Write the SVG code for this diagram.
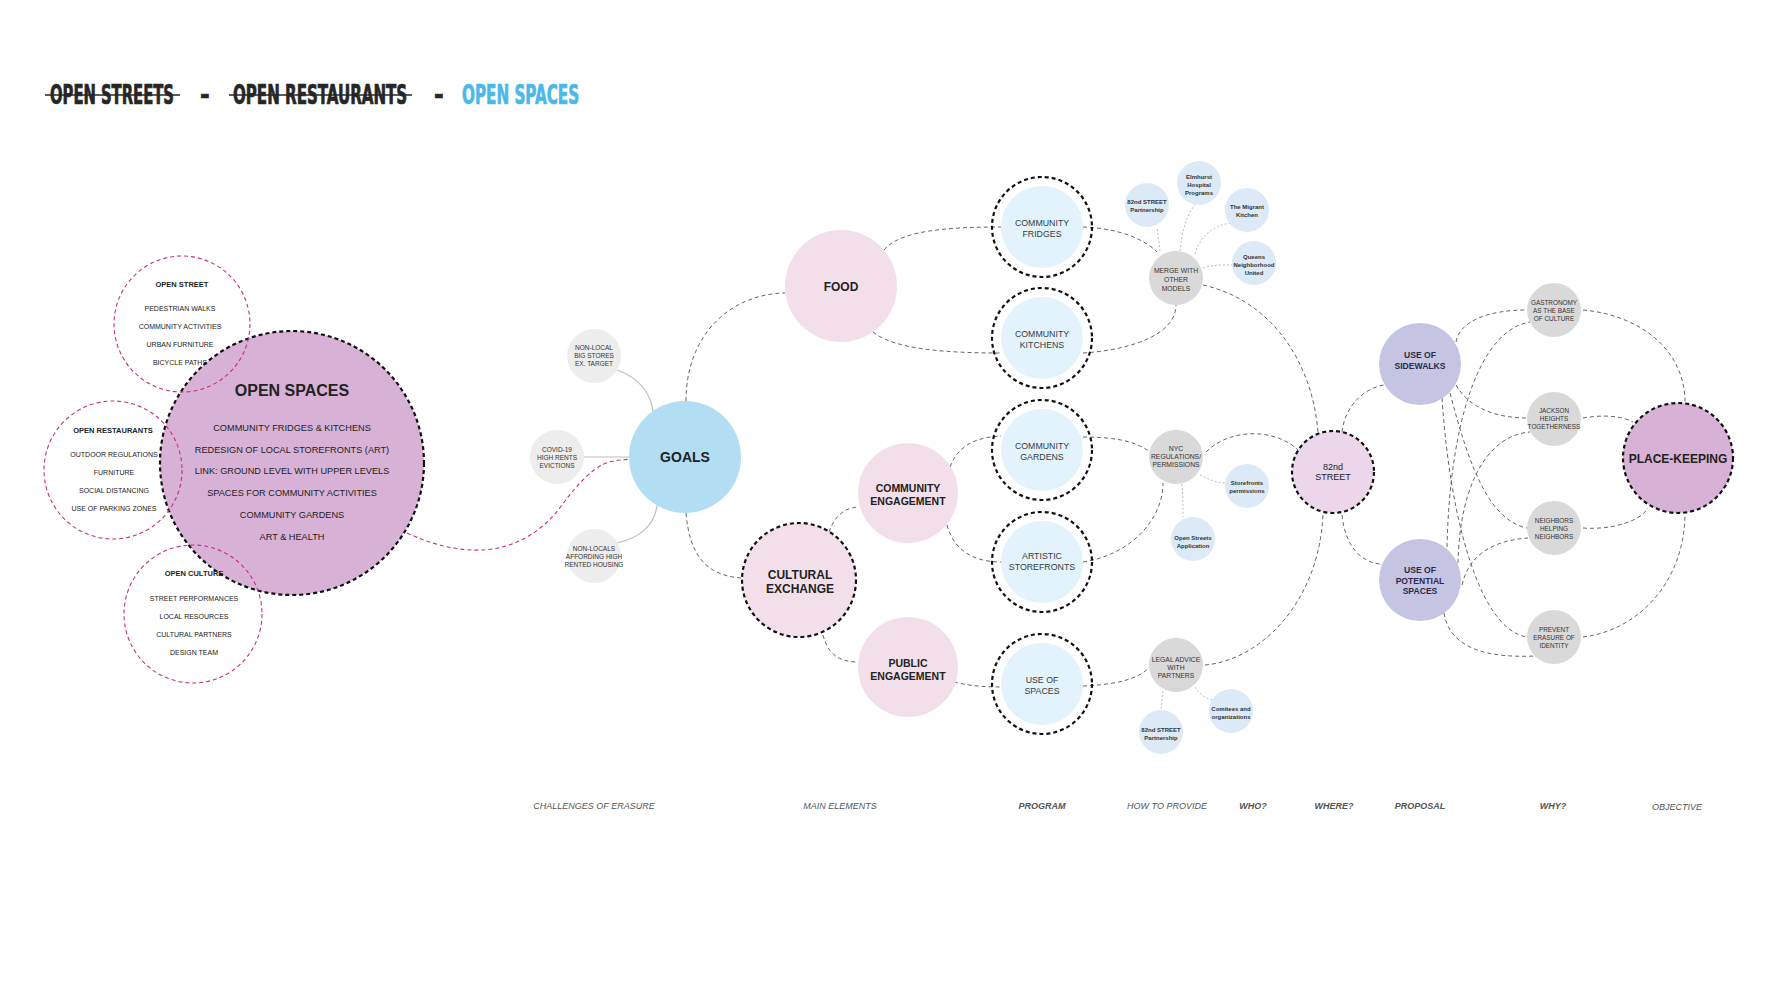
<svg xmlns="http://www.w3.org/2000/svg" width="1778" height="1000" viewBox="0 0 1778 1000">
<style>
text{font-family:"Liberation Sans",Arial,sans-serif;fill:#222;text-anchor:middle}
.title{font-family:"Liberation Sans Narrow","DejaVu Sans Condensed","Liberation Sans",sans-serif;font-weight:bold;font-size:26px;text-anchor:start;fill:#262626;stroke:#262626;stroke-width:0.7}
.blue{fill:#4ab8e8;stroke:#4ab8e8}
.con{fill:none;stroke:#666;stroke-width:1;stroke-dasharray:4 3}
.dot{fill:none;stroke:#bdbdbd;stroke-width:1;stroke-dasharray:2 2}
.solid{fill:none;stroke:#bdbdbd;stroke-width:1.2}
.mag{fill:none;stroke:#c2307c;stroke-width:1.1;stroke-dasharray:4 3}
.ring{fill:none;stroke:#111;stroke-width:2.2;stroke-dasharray:4 3}
.prog{fill:#e2f3fb}
.pink{fill:#f3dfea}
.grey{fill:#d9d9d9}
.lgrey{fill:#ededed}
.part{fill:#dbeaf6}
.prop{fill:#c5c5e3}
.orch{fill:#d8b1d6}
.b{font-weight:bold}
.s7{font-size:7px}
.ps{font-size:8.8px;fill:#333c45}
.hw{font-size:6.8px;fill:#333}
.pt{font-size:6px;font-weight:bold;fill:#333}
.wy{font-size:6.4px;fill:#333}
.ch{font-size:6.5px;fill:#333}
.lab{font-size:9px;font-style:italic;fill:#555}
.pp{font-size:8.6px;font-weight:bold;fill:#2a2a48}
</style>

<!-- title -->
<g id="title">
<text class="title" transform="translate(50 104) scale(0.62 1)" x="0" y="0" textLength="200" lengthAdjust="spacingAndGlyphs">OPEN STREETS</text>
<line x1="45" y1="95" x2="180" y2="95" stroke="#262626" stroke-width="1.6"/>
<text class="title" x="200" y="104">-</text>
<text class="title" transform="translate(233 104) scale(0.62 1)" x="0" y="0" textLength="281" lengthAdjust="spacingAndGlyphs">OPEN RESTAURANTS</text>
<line x1="229" y1="95" x2="412" y2="95" stroke="#262626" stroke-width="1.6"/>
<text class="title" x="434" y="104">-</text>
<text class="title blue" transform="translate(462 104) scale(0.62 1)" x="0" y="0" textLength="189" lengthAdjust="spacingAndGlyphs">OPEN SPACES</text>
</g>

<!-- connectors -->
<g id="connectors">
<path class="mag" d="M407 533 C470 562 525 555 562 505 S612 462 630 459"/>
<path class="solid" d="M617 370 C640 378 652 395 653 413"/>
<path class="solid" d="M584 457 L630 457"/>
<path class="solid" d="M617 543 C640 538 655 525 657 505"/>
<path class="con" d="M686 401 C686 335 730 294 785 293"/>
<path class="con" d="M686 513 C690 560 710 576 742 578"/>
<path class="con" d="M884 250 C900 230 950 227 1001 227"/>
<path class="con" d="M873 332 C895 350 950 353 1001 353"/>
<path class="con" d="M1083 227 C1110 228 1140 235 1157 252"/>
<path class="con" d="M1083 353 C1130 350 1176 335 1176 305"/>
<path class="con" d="M1203 285 C1270 300 1312 360 1318 432"/>
<path class="dot" d="M1160 251 L1157 227"/>
<path class="dot" d="M1180 251 C1182 230 1188 212 1195 205"/>
<path class="dot" d="M1195 254 C1200 235 1215 225 1231 223"/>
<path class="dot" d="M1203 268 C1215 264 1225 265 1233 265"/>
<path class="con" d="M950 467 C960 440 985 437 1001 436"/>
<path class="con" d="M947 525 C955 555 980 562 1001 562"/>
<path class="con" d="M829 532 C835 515 845 508 858 507"/>
<path class="con" d="M823 635 C828 655 840 662 858 662"/>
<path class="con" d="M954 682 C970 686 985 687 1001 687"/>
<path class="con" d="M1083 437 C1110 437 1135 440 1150 452"/>
<path class="con" d="M1083 562 C1130 555 1163 520 1163 483"/>
<path class="con" d="M1206 452 C1230 428 1275 428 1298 450"/>
<path class="dot" d="M1200 475 C1210 480 1218 483 1225 483"/>
<path class="dot" d="M1182 484 C1183 495 1183 505 1183 517"/>
<path class="con" d="M1083 686 C1110 685 1140 680 1149 667"/>
<path class="con" d="M1205 665 C1262 660 1320 600 1323 513"/>
<path class="dot" d="M1163 691 L1161 710"/>
<path class="dot" d="M1195 687 C1200 695 1207 699 1213 700"/>
<path class="con" d="M1342 432 C1345 405 1365 388 1384 385"/>
<path class="con" d="M1342 515 C1345 545 1360 562 1380 564"/>
<path class="con" d="M1456 342 C1460 320 1490 310 1527 310"/>
<path class="con" d="M1456 385 C1470 410 1500 418 1527 418"/>
<path class="con" d="M1450 393 C1470 470 1490 520 1527 528"/>
<path class="con" d="M1442 398 C1450 520 1480 630 1527 637"/>
<path class="con" d="M1447 547 C1450 420 1480 330 1530 322"/>
<path class="con" d="M1458 563 C1460 480 1490 435 1530 432"/>
<path class="con" d="M1462 585 C1470 550 1500 540 1528 538"/>
<path class="con" d="M1444 613 C1450 650 1490 658 1535 656"/>
<path class="con" d="M1583 310 C1640 315 1685 350 1685 402"/>
<path class="con" d="M1583 418 C1600 415 1620 415 1633 422"/>
<path class="con" d="M1583 528 C1610 530 1640 522 1648 508"/>
<path class="con" d="M1583 637 C1640 630 1685 580 1685 513"/>
</g>

<!-- open spaces cluster -->
<g id="open-spaces">
<circle class="orch" cx="292" cy="463" r="132"/>
<circle class="ring" cx="292" cy="463" r="132"/>
<text class="b" x="292" y="396" font-size="16">OPEN SPACES</text>
<g font-size="9.2">
<text x="292" y="431">COMMUNITY FRIDGES &amp; KITCHENS</text>
<text x="292" y="453">REDESIGN OF LOCAL STOREFRONTS (ART)</text>
<text x="292" y="474">LINK: GROUND LEVEL WITH UPPER LEVELS</text>
<text x="292" y="496">SPACES FOR COMMUNITY ACTIVITIES</text>
<text x="292" y="518">COMMUNITY GARDENS</text>
<text x="292" y="540">ART &amp; HEALTH</text>
</g>
</g>
<g id="open-street">
<circle class="mag" cx="182" cy="324" r="68"/>
<text class="b" x="182" y="287" font-size="7.5">OPEN STREET</text>
<text class="s7" x="180" y="311">PEDESTRIAN WALKS</text>
<text class="s7" x="180" y="329">COMMUNITY ACTIVITIES</text>
<text class="s7" x="180" y="347">URBAN FURNITURE</text>
<text class="s7" x="180" y="365">BICYCLE PATHS</text>
</g>
<g id="open-restaurants">
<circle class="mag" cx="113" cy="470" r="69"/>
<text class="b" x="113" y="433" font-size="7.5">OPEN RESTAURANTS</text>
<text class="s7" x="114" y="457">OUTDOOR REGULATIONS</text>
<text class="s7" x="114" y="475">FURNITURE</text>
<text class="s7" x="114" y="493">SOCIAL DISTANCING</text>
<text class="s7" x="114" y="511">USE OF PARKING ZONES</text>
</g>
<g id="open-culture">
<circle class="mag" cx="193" cy="614" r="69"/>
<text class="b" x="194" y="576" font-size="7.5">OPEN CULTURE</text>
<text class="s7" x="194" y="601">STREET PERFORMANCES</text>
<text class="s7" x="194" y="619">LOCAL RESOURCES</text>
<text class="s7" x="194" y="637">CULTURAL PARTNERS</text>
<text class="s7" x="194" y="655">DESIGN TEAM</text>
</g>

<!-- challenges -->
<g id="non-local-stores"><circle class="lgrey" cx="594" cy="356" r="27"/>
<text class="ch" x="594" y="350">NON-LOCAL</text><text class="ch" x="594" y="358">BIG STORES</text><text class="ch" x="594" y="366">EX. TARGET</text></g>
<g id="covid"><circle class="lgrey" cx="557" cy="457" r="27"/>
<text class="ch" x="557" y="452">COVID-19</text><text class="ch" x="557" y="460">HIGH RENTS</text><text class="ch" x="557" y="468">EVICTIONS</text></g>
<g id="non-locals-housing"><circle class="lgrey" cx="594" cy="556" r="27"/>
<text class="ch" x="594" y="551">NON-LOCALS</text><text class="ch" x="594" y="559">AFFORDING HIGH</text><text class="ch" x="594" y="567">RENTED HOUSING</text></g>

<g id="goals"><circle cx="685" cy="457" r="56" fill="#b1def3"/>
<text class="b" x="685" y="462" font-size="14">GOALS</text></g>

<!-- main elements -->
<g id="food"><circle class="pink" cx="841" cy="286" r="56"/>
<text class="b" x="841" y="291" font-size="12">FOOD</text></g>
<g id="community-engagement"><circle class="pink" cx="908" cy="493" r="50"/>
<text class="b" x="908" y="492" font-size="10.5">COMMUNITY</text><text class="b" x="908" y="505" font-size="10.5">ENGAGEMENT</text></g>
<g id="cultural-exchange"><circle class="pink" cx="799" cy="580" r="57"/><circle class="ring" cx="799" cy="580" r="57"/>
<text class="b" x="800" y="579" font-size="12">CULTURAL</text><text class="b" x="800" y="593" font-size="12">EXCHANGE</text></g>
<g id="public-engagement"><circle class="pink" cx="908" cy="667" r="50"/>
<text class="b" x="908" y="667" font-size="10.5">PUBLIC</text><text class="b" x="908" y="680" font-size="10.5">ENGAGEMENT</text></g>

<!-- program -->
<g id="community-fridges"><circle class="prog" cx="1042" cy="227" r="41"/><circle class="ring" cx="1042" cy="227" r="50"/>
<text class="ps" x="1042" y="226">COMMUNITY</text><text class="ps" x="1042" y="237">FRIDGES</text></g>
<g id="community-kitchens"><circle class="prog" cx="1042" cy="338" r="41"/><circle class="ring" cx="1042" cy="338" r="50"/>
<text class="ps" x="1042" y="337">COMMUNITY</text><text class="ps" x="1042" y="348">KITCHENS</text></g>
<g id="community-gardens"><circle class="prog" cx="1042" cy="450" r="41"/><circle class="ring" cx="1042" cy="450" r="50"/>
<text class="ps" x="1042" y="449">COMMUNITY</text><text class="ps" x="1042" y="460">GARDENS</text></g>
<g id="artistic-storefronts"><circle class="prog" cx="1042" cy="562" r="41"/><circle class="ring" cx="1042" cy="562" r="50"/>
<text class="ps" x="1042" y="559">ARTISTIC</text><text class="ps" x="1042" y="570">STOREFRONTS</text></g>
<g id="use-of-spaces"><circle class="prog" cx="1042" cy="684" r="41"/><circle class="ring" cx="1042" cy="684" r="50"/>
<text class="ps" x="1042" y="683">USE OF</text><text class="ps" x="1042" y="694">SPACES</text></g>

<!-- how to provide -->
<g id="merge"><circle class="grey" cx="1176" cy="278" r="27"/>
<text class="hw" x="1176" y="273">MERGE WITH</text><text class="hw" x="1176" y="282">OTHER</text><text class="hw" x="1176" y="291">MODELS</text></g>
<g id="nyc-regulations"><circle class="grey" cx="1176" cy="457" r="27"/>
<text class="hw" x="1176" y="451">NYC</text><text class="hw" x="1176" y="459">REGULATIONS/</text><text class="hw" x="1176" y="467">PERMISSIONS</text></g>
<g id="legal-advice"><circle class="grey" cx="1176" cy="665" r="27"/>
<text class="hw" x="1176" y="662">LEGAL ADVICE</text><text class="hw" x="1176" y="670">WITH</text><text class="hw" x="1176" y="678">PARTNERS</text></g>

<!-- who -->
<g id="p-82nd-a"><circle class="part" cx="1147" cy="205" r="22"/>
<text class="pt" x="1147" y="204">82nd STREET</text><text class="pt" x="1147" y="212">Partnership</text></g>
<g id="p-elmhurst"><circle class="part" cx="1199" cy="183" r="22"/>
<text class="pt" x="1199" y="179">Elmhurst</text><text class="pt" x="1199" y="187">Hospital</text><text class="pt" x="1199" y="195">Programs</text></g>
<g id="p-migrant"><circle class="part" cx="1247" cy="210" r="22"/>
<text class="pt" x="1247" y="209">The Migrant</text><text class="pt" x="1247" y="217">Kitchen</text></g>
<g id="p-queens"><circle class="part" cx="1254" cy="263" r="22"/>
<text class="pt" x="1254" y="259">Queens</text><text class="pt" x="1254" y="267">Neighborhood</text><text class="pt" x="1254" y="275">United</text></g>
<g id="p-storefronts"><circle class="part" cx="1247" cy="486" r="22"/>
<text class="pt" x="1247" y="485">Storefronts</text><text class="pt" x="1247" y="493">permissions</text></g>
<g id="p-open-streets"><circle class="part" cx="1193" cy="539" r="22"/>
<text class="pt" x="1193" y="540">Open Streets</text><text class="pt" x="1193" y="548">Application</text></g>
<g id="p-comitees"><circle class="part" cx="1231" cy="711" r="22"/>
<text class="pt" x="1231" y="711">Comitees and</text><text class="pt" x="1231" y="719">organizations</text></g>
<g id="p-82nd-b"><circle class="part" cx="1161" cy="732" r="22"/>
<text class="pt" x="1161" y="732">82nd STREET</text><text class="pt" x="1161" y="740">Partnership</text></g>

<!-- where -->
<g id="street-82nd"><circle cx="1333" cy="472" r="41" fill="#ecd6ea"/><circle class="ring" cx="1333" cy="472" r="41"/>
<text x="1333" y="470" font-size="9" fill="#333">82nd</text><text x="1333" y="480" font-size="9" fill="#333">STREET</text></g>

<!-- proposal -->
<g id="use-of-sidewalks"><circle class="prop" cx="1420" cy="364" r="41"/>
<text class="pp" x="1420" y="358">USE OF</text><text class="pp" x="1420" y="369">SIDEWALKS</text></g>
<g id="use-of-potential-spaces"><circle class="prop" cx="1420" cy="580" r="41"/>
<text class="pp" x="1420" y="573">USE OF</text><text class="pp" x="1420" y="584">POTENTIAL</text><text class="pp" x="1420" y="594">SPACES</text></g>

<!-- why -->
<g id="gastronomy"><circle class="grey" cx="1554" cy="310" r="27"/>
<text class="wy" x="1554" y="305">GASTRONOMY</text><text class="wy" x="1554" y="313">AS THE BASE</text><text class="wy" x="1554" y="321">OF CULTURE</text></g>
<g id="jackson-heights"><circle class="grey" cx="1554" cy="419" r="27"/>
<text class="wy" x="1554" y="413">JACKSON</text><text class="wy" x="1554" y="421">HEIGHTS</text><text class="wy" x="1554" y="429">TOGETHERNESS</text></g>
<g id="neighbors"><circle class="grey" cx="1554" cy="528" r="27"/>
<text class="wy" x="1554" y="523">NEIGHBORS</text><text class="wy" x="1554" y="531">HELPING</text><text class="wy" x="1554" y="539">NEIGHBORS</text></g>
<g id="prevent-erasure"><circle class="grey" cx="1554" cy="637" r="27"/>
<text class="wy" x="1554" y="632">PREVENT</text><text class="wy" x="1554" y="640">ERASURE OF</text><text class="wy" x="1554" y="648">IDENTITY</text></g>

<!-- objective -->
<g id="place-keeping"><circle class="orch" cx="1678" cy="458" r="55"/><circle class="ring" cx="1678" cy="458" r="55"/>
<text class="b" x="1678" y="463" font-size="12">PLACE-KEEPING</text></g>

<!-- column labels -->
<g id="labels">
<text class="lab" x="594" y="809">CHALLENGES OF ERASURE</text>
<text class="lab" x="840" y="809">MAIN ELEMENTS</text>
<text class="lab b" x="1042" y="809">PROGRAM</text>
<text class="lab" x="1167" y="809">HOW TO PROVIDE</text>
<text class="lab b" x="1253" y="809">WHO?</text>
<text class="lab b" x="1334" y="809">WHERE?</text>
<text class="lab b" x="1420" y="809">PROPOSAL</text>
<text class="lab b" x="1553" y="809">WHY?</text>
<text class="lab" x="1677" y="810">OBJECTIVE</text>
</g>
</svg>
